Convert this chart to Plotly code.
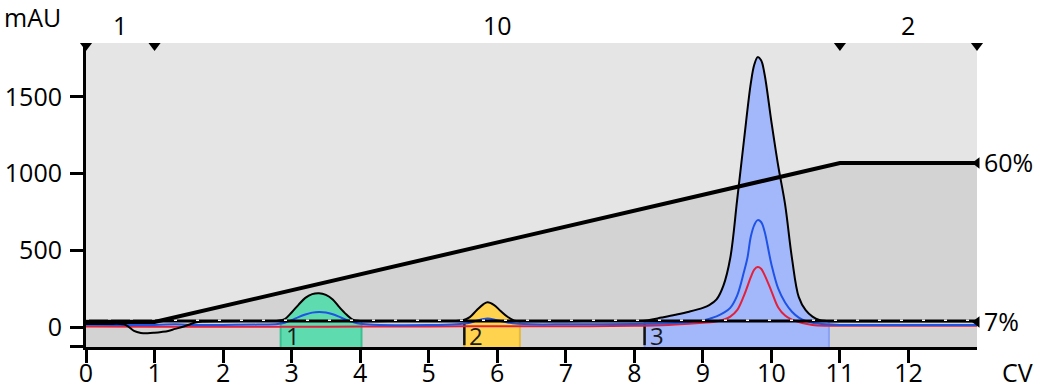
import numpy as np
import plotly.graph_objects as go

# ---------------- data ----------------
# UV trace 1 (black), mAU vs CV
cv_uv = [0.0, 0.3, 0.55, 0.62, 0.7, 0.8, 0.9, 1.0, 1.1, 1.2, 1.3, 1.4, 1.5, 1.58, 1.7, 2.0, 2.5, 2.8,
         2.9, 3.0, 3.1, 3.2, 3.3, 3.4, 3.5, 3.6, 3.7, 3.8, 3.9, 4.0, 4.2, 4.6, 5.0, 5.4,
         5.5, 5.6, 5.7, 5.8, 5.86, 5.95, 6.05, 6.15, 6.25, 6.35, 6.5, 7.0, 7.5, 8.0,
         8.2, 8.4, 8.6, 8.8, 9.0, 9.1, 9.2, 9.3, 9.4, 9.5, 9.6, 9.7, 9.75, 9.8, 9.85, 9.9,
         10.0, 10.1, 10.2, 10.3, 10.4, 10.5, 10.6, 10.7, 10.8, 11.0, 12.0, 13.0]
uv_black = [20, 20, 18, 2, -25, -38, -40, -37, -32, -25, -12, 0, 15, 28, 36, 38, 40, 42,
            52, 95, 145, 190, 215, 221, 210, 180, 128, 82, 47, 40, 38, 40, 40, 40,
            44, 65, 110, 150, 162, 145, 105, 67, 42, 38, 38, 38, 40, 40,
            45, 62, 80, 100, 125, 145, 180, 270, 450, 827, 1218, 1590, 1710, 1760, 1740, 1650,
            1340, 1050, 800, 450, 195, 110, 68, 46, 40, 38, 38, 38]

# UV trace 2 (blue)
cv_blue = [0.0, 1.0, 1.3, 1.5, 2.0, 2.5, 2.8,
           2.9, 3.0, 3.1, 3.2, 3.3, 3.4, 3.5, 3.6, 3.7, 3.8, 3.9, 4.0,
           4.2, 5.0, 5.4,
           5.6, 5.7, 5.8, 5.86, 5.95, 6.05, 6.15, 6.3, 6.5,
           7.0, 8.0, 8.5, 8.8, 9.0, 9.1, 9.2, 9.3, 9.4, 9.5,
           9.6, 9.65, 9.7, 9.75, 9.8, 9.85, 9.9, 10.0,
           10.1, 10.2, 10.3, 10.4, 10.5, 10.6,
           10.8, 11.0, 12.0, 13.0]
uv_blue = [15, 14, 18, 14, 14, 16, 20,
           28, 45, 65, 82, 94, 98, 95, 84, 66, 46, 32, 22,
           15, 13, 18,
           28, 42, 52, 55, 50, 40, 30, 22, 18,
           18, 20, 25, 32, 42, 55, 70, 92, 125, 205,
           360, 450, 590, 665, 697, 685, 625, 410,
           250, 160, 100, 62, 40, 28,
           18, 14, 14, 13]

# UV trace 3 (red)
cv_red = [0.0, 1.0, 2.0, 3.0, 4.0, 5.0, 6.0, 7.0, 8.0,
          8.5, 8.8, 9.0, 9.15, 9.3, 9.4, 9.5, 9.6, 9.7, 9.75,
          9.8, 9.85, 9.9, 10.0, 10.1, 10.2, 10.3, 10.45, 10.6, 10.8,
          11.0, 13.0]
uv_red = [3, 2, 2, 2, 3, 4, 5, 5, 8,
          14, 22, 28, 33, 48, 68, 110, 205, 325, 375,
          391, 380, 340, 235, 128, 75, 48, 26, 14, 9,
          8, 8]

# gradient (% B)
grad_cv = [0, 1, 11, 13]
grad_pct = [7, 7, 60, 60]
pct_ticks = [7, 60]
pct_labels = ["7%", "60%"]
ref_level_pct = 7.3

# method blocks along the top
block_edges = [0, 1, 11, 13]
block_labels = ["1", "10", "2"]

# fractions
frac_start = [2.84, 5.52, 8.15]
frac_end = [4.02, 6.33, 10.84]
frac_labels = ["1", "2", "3"]

x_ticks = list(range(13))
y_ticks = [0, 500, 1000, 1500]

# ---------------- styling ----------------
X_RANGE = [0, 13]
Y_RANGE = [-130, 1852]
P_RANGE = [-1.33, 100]
FONT = "Open Sans"
FS = 25
LIGHT_BG = "#e5e5e5"
DARK_BG = "#d3d3d3"
frac_fill = ["#5edcb0", "#ffd34d", "#a3b8fa"]
frac_edge = ["#3cbf90", "#e6b93a", "#8aa2f0"]
BLUE = "#1f52e6"
RED = "#e3203c"

fig = go.Figure()

# gradient shaded region (primary y = %)
fig.add_trace(go.Scatter(x=[X_RANGE[0], X_RANGE[1]], y=[P_RANGE[0] - 5, P_RANGE[0] - 5],
                         mode="lines", line=dict(width=0), hoverinfo="skip", yaxis="y"))
fig.add_trace(go.Scatter(x=grad_cv, y=grad_pct, mode="lines", line=dict(width=0),
                         fill="tonexty", fillcolor=DARK_BG, hoverinfo="skip", yaxis="y"))

# fractions (y2 = mAU)
xs = np.array(cv_uv, dtype=float)
ys = np.array(uv_black, dtype=float)
for i, (s, e) in enumerate(zip(frac_start, frac_end)):
    m = (xs > s) & (xs < e)
    seg_x = [s] + list(xs[m]) + [e]
    seg_y = [float(np.interp(s, xs, ys))] + list(ys[m]) + [float(np.interp(e, xs, ys))]
    fig.add_trace(go.Scatter(x=[s, e], y=[Y_RANGE[0] - 20, Y_RANGE[0] - 20], mode="lines",
                             line=dict(width=0), hoverinfo="skip", yaxis="y2"))
    fig.add_trace(go.Scatter(x=seg_x, y=seg_y, mode="lines", line=dict(width=0, shape="spline"),
                             fill="tonexty", fillcolor=frac_fill[i], hoverinfo="skip", yaxis="y2"))
    fig.add_trace(go.Scatter(x=[s, s, None, e, e],
                             y=[Y_RANGE[0], seg_y[0], None, Y_RANGE[0], seg_y[-1]],
                             mode="lines", line=dict(width=2, color=frac_edge[i]),
                             hoverinfo="skip", yaxis="y2"))
    if i > 0:
        fig.add_trace(go.Scatter(x=[s, s], y=[25, -118], mode="lines",
                                 line=dict(width=2.5, color="#111111"),
                                 hoverinfo="skip", yaxis="y2"))
    fig.add_annotation(x=s, y=-55, xref="x", yref="y2", text=frac_labels[i], showarrow=False,
                       xanchor="center", yanchor="middle", xshift=12,
                       font=dict(family=FONT, size=24, color="#1a1a1a"))

# UV curves
fig.add_trace(go.Scatter(x=cv_red, y=uv_red, mode="lines",
                         line=dict(color=RED, width=2, shape="spline"), yaxis="y2"))
fig.add_trace(go.Scatter(x=cv_blue, y=uv_blue, mode="lines",
                         line=dict(color=BLUE, width=2, shape="spline"), yaxis="y2"))
fig.add_trace(go.Scatter(x=cv_uv, y=uv_black, mode="lines",
                         line=dict(color="black", width=2, shape="spline"), yaxis="y2"))

# dashed reference line + gradient line (y3 = %)
fig.add_trace(go.Scatter(x=X_RANGE, y=[ref_level_pct, ref_level_pct], mode="lines",
                         line=dict(color="black", width=3), yaxis="y3"))
fig.add_trace(go.Scatter(x=X_RANGE, y=[ref_level_pct + 0.3, ref_level_pct + 0.3], mode="lines",
                         line=dict(color="white", width=1.5, dash="3px,19px"), yaxis="y3"))
fig.add_trace(go.Scatter(x=grad_cv, y=grad_pct, mode="lines",
                         line=dict(color="black", width=4), yaxis="y3"))
fig.add_trace(go.Scatter(x=[grad_cv[-1], grad_cv[-1]], y=pct_ticks, mode="markers",
                         marker=dict(symbol="triangle-left", size=10, color="black"),
                         cliponaxis=False, yaxis="y3"))

# block markers along the top
fig.add_trace(go.Scatter(x=block_edges, y=[99.1] * len(block_edges), mode="markers",
                         marker=dict(symbol="triangle-down", size=10.5, color="black"),
                         cliponaxis=False, yaxis="y3"))
for a, b, lab in zip(block_edges[:-1], block_edges[1:], block_labels):
    fig.add_annotation(x=(a + b) / 2, y=1.058, xref="x", yref="paper", text=lab,
                       showarrow=False, xanchor="center", yanchor="middle",
                       font=dict(family=FONT, size=FS, color="black"))

# axis titles
fig.add_annotation(x=-0.0595, y=1.086, xref="paper", yref="paper", text="mAU", showarrow=False,
                   xanchor="center", yanchor="middle", font=dict(family=FONT, size=FS, color="black"))
fig.add_annotation(x=1.045, y=-0.082, xref="paper", yref="paper", text="CV", showarrow=False,
                   xanchor="center", yanchor="middle", font=dict(family=FONT, size=FS, color="black"))

axis_common = dict(showgrid=False, zeroline=False, color="black", automargin=False)
fig.update_layout(
    template="none",
    width=1039, height=388,
    margin=dict(l=86, r=62, t=43, b=41, autoexpand=False),
    plot_bgcolor=LIGHT_BG, paper_bgcolor="white",
    showlegend=False,
    font=dict(family=FONT, size=FS, color="black"),
    xaxis=dict(range=X_RANGE, tickvals=x_ticks, showline=True, linecolor="black", linewidth=3,
               ticks="outside", ticklen=13, tickwidth=3, tickcolor="black",
               ticklabelstandoff=-11,
               tickfont=dict(family=FONT, size=FS), **axis_common),
    yaxis=dict(range=P_RANGE, visible=False, **axis_common),
    yaxis2=dict(range=Y_RANGE, overlaying="y", side="left", anchor="x",
                tickvals=[Y_RANGE[0] + 0.5] + y_ticks, ticktext=[""] + [str(v) for v in y_ticks],
                showline=True, linecolor="black", linewidth=3,
                ticks="outside", ticklen=13, tickwidth=3, tickcolor="black",
                ticklabelstandoff=3,
                tickfont=dict(family=FONT, size=FS), **axis_common),
    yaxis3=dict(range=P_RANGE, overlaying="y", side="right", anchor="x",
                tickvals=pct_ticks, ticktext=pct_labels, ticks="", showline=False,
                ticklabelstandoff=6,
                tickfont=dict(family=FONT, size=FS), **axis_common),
)

fig.write_html("out.html", config={"displayModeBar": False},
               post_script="document.body.style.margin='0px';document.body.style.padding='0px';")
